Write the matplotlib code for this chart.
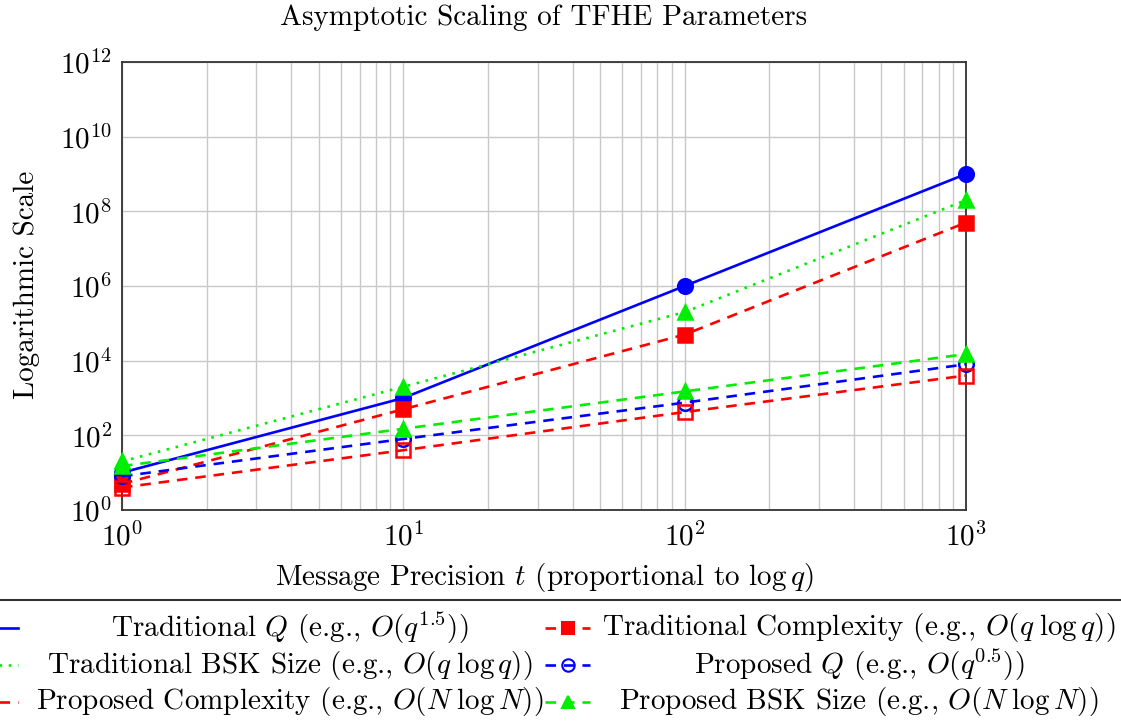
import matplotlib
matplotlib.use("Agg")
import matplotlib.pyplot as plt
from matplotlib.lines import Line2D
from matplotlib.patches import Rectangle
from matplotlib.ticker import LogLocator, NullFormatter, FixedLocator, NullLocator

plt.rcParams['font.family'] = 'serif'
plt.rcParams['font.serif'] = ['cmr10']
plt.rcParams['mathtext.fontset'] = 'cm'
plt.rcParams['axes.formatter.use_mathtext'] = True

# ---- data ----
precision = [1, 10, 100, 1000]
trad_q = [10, 1e3, 1e6, 1e9]
trad_complexity = [5, 5e2, 5e4, 5e7]
trad_bsk = [20, 2e3, 2e5, 2e8]
prop_q = [8, 80, 750, 8e3]
prop_complexity = [4, 40, 420, 4e3]
prop_bsk = [15, 150, 1.5e3, 1.5e4]
y_ticks = [1e0, 1e2, 1e4, 1e6, 1e8, 1e10, 1e12]

labels = [
    r'Traditional $Q$ (e.g., $O(q^{1.5})$)',
    r'Traditional Complexity (e.g., $O(q\;\log q)$)',
    r'Traditional BSK Size (e.g., $O(q\;\log q)$)',
    r'Proposed $Q$ (e.g., $O(q^{0.5})$)',
    r'Proposed Complexity (e.g., $O(N\;\log N)$)',
    r'Proposed BSK Size (e.g., $O(N\;\log N)$)',
]
title = 'Asymptotic Scaling of TFHE Parameters'
xlabel = r'Message Precision $t$ (proportional to $\log q$)'
ylabel = 'Logarithmic Scale'

BLUE = '#0000ff'
RED = '#ff0000'
GREEN = '#00ee00'

styles = [
    dict(color=BLUE, ls='-', marker='o', mfc=BLUE, ms=10.5),
    dict(color=RED, ls=(0, (4, 3)), marker='s', mfc=RED, ms=9.5),
    dict(color=GREEN, ls=(0, (1, 2.5)), marker='^', mfc=GREEN, ms=9.5),
    dict(color=BLUE, ls=(0, (4, 3)), marker='o', mfc='none', ms=10.5),
    dict(color=RED, ls=(0, (4, 3)), marker='s', mfc='none', ms=9.5),
    dict(color=GREEN, ls=(0, (4, 3)), marker='^', mfc=GREEN, ms=9.5),
]
series = [trad_q, trad_complexity, trad_bsk, prop_q, prop_complexity, prop_bsk]

W, H = 1121, 726
fig = plt.figure(figsize=(W / 100, H / 100), dpi=100)
L, R, T, B = 122, 966, 62, 510
ax = fig.add_axes([L / W, (H - B) / H, (R - L) / W, (B - T) / H])

for ys, st in zip(series, styles):
    ax.plot(precision, ys, color=st['color'], linestyle=st['ls'], linewidth=1.9,
            marker=st['marker'], markerfacecolor=st['mfc'], markeredgecolor=st['color'],
            markeredgewidth=1.8, markersize=st['ms'], clip_on=False, zorder=3)

ax.set_xscale('log')
ax.set_yscale('log')
ax.set_xlim(1, 1000)
ax.set_ylim(1, 1e12)
ax.xaxis.set_major_locator(LogLocator(base=10, numticks=10))
ax.xaxis.set_minor_locator(LogLocator(base=10, subs=range(2, 10), numticks=20))
ax.xaxis.set_minor_formatter(NullFormatter())
ax.yaxis.set_major_locator(FixedLocator(y_ticks))
ax.yaxis.set_minor_locator(NullLocator())
ax.grid(True, which='both', axis='x', color='#c8c8c8', lw=1.0)
ax.grid(True, which='major', axis='y', color='#c8c8c8', lw=1.0)
ax.set_axisbelow(True)
ax.tick_params(which='both', direction='in', length=0, labelsize=21)
ax.tick_params(axis='x', pad=9)
ax.tick_params(axis='y', pad=7)
for s in ax.spines.values():
    s.set_color('#333333')
    s.set_linewidth(1.3)

fig.text((L + R) / 2 / W, 1 - 18 / H, title, ha='center', va='center', fontsize=21)
fig.text((L + R) / 2 / W, 1 - 577 / H, xlabel, ha='center', va='center', fontsize=21)
fig.text(27 / W, 1 - 285 / H, ylabel, ha='center', va='center', rotation=90, fontsize=21)

# ---- legend (pgfplots-like, two columns, centered text) ----
fig.add_artist(Rectangle((-20 / W, -0.1), (W + 40) / W, (H - 600) / H + 0.1,
                         transform=fig.transFigure, facecolor='white',
                         edgecolor='#333333', lw=1.5))
rows_y = [628, 665, 702]
col_handle = [(-34, 18), (545, 590)]
col_text = [290, 859]
for i, (lab, st) in enumerate(zip(labels, styles)):
    r, c = divmod(i, 2)
    y = 1 - rows_y[r] / H
    x0, x1 = col_handle[c]
    xm = (x0 + x1) / 2
    fig.add_artist(Line2D([x0 / W, xm / W, x1 / W], [y, y, y], transform=fig.transFigure,
                          color=st['color'], linestyle=st['ls'], linewidth=1.9,
                          marker=st['marker'], markevery=[1], markerfacecolor=st['mfc'],
                          markeredgecolor=st['color'], markeredgewidth=1.5,
                          markersize=st['ms'] * 0.85))
    fig.text(col_text[c] / W, y, lab, ha='center', va='center', fontsize=21)

fig.savefig('out.png', dpi=100)
